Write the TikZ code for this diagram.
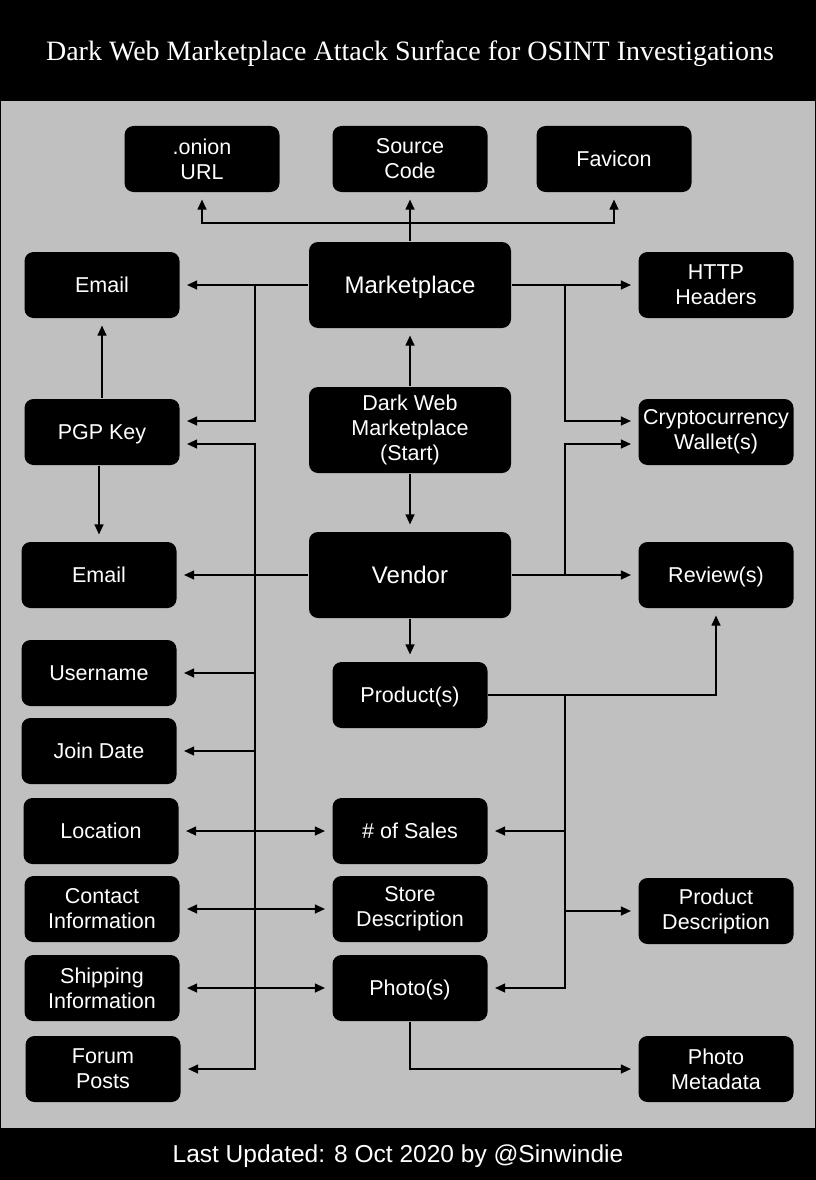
\documentclass[tikz,border=0pt]{standalone}
\usepackage{fontspec}
\setmainfont{Liberation Sans}
\newfontfamily\titlefont{Liberation Serif}
\usetikzlibrary{arrows.meta}
\definecolor{panel}{RGB}{192,192,192}

\begin{document}
\begin{tikzpicture}[x=1pt,y=-1pt,>={Triangle[length=10pt,width=9pt]},line width=1.2pt,
    box/.style={fill=black,rounded corners=9pt,text=white,align=center,inner sep=2pt,
      minimum width=155pt,minimum height=66pt,font=\fontsize{21.5}{25}\selectfont},
    bigbox/.style={box,minimum width=202pt,minimum height=86pt},
    big/.style={font=\fontsize{24}{28}\selectfont,text height=17.2pt,text depth=0pt},
    one/.style={text height=15.4pt,text depth=0pt},
    link/.style={->,shorten >=7pt}]
      \useasboundingbox (0,0) rectangle (816,1180);
      \draw[fill=panel,line width=1pt] (0.5,0.5) rectangle (815.5,1179.5);
      \fill[black] (0,0) rectangle (816,101);
      \fill[black] (0,1128) rectangle (816,1180);
      \node[text=white,font=\titlefont\fontsize{28}{32}\selectfont] (title) at (410,54)
        {Dark Web Marketplace Attack Surface for OSINT Investigations};
      \node[text=white,font=\fontsize{24.5}{28}\selectfont] (footer) at (398,1156)
        {Last Updated: 8 Oct 2020 by @Sinwindie};

      % top row
      \node[box] (onion) at (202,159) {.onion\\URL};
      \node[box] (src) at (410,159) {Source\\Code};
      \node[box,one] (fav) at (614,159) {Favicon};

      % centre column
      \node[bigbox,big] (mkt) at (410,285) {Marketplace};
      \node[bigbox] (start) at (410,430) {Dark Web\\Marketplace\\(Start)};
      \node[bigbox,big] (vendor) at (410,575) {Vendor};
      \node[box,one] (product) at (410,695) {Product(s)};
      \node[box,one] (sales) at (410,831) {\# of Sales};
      \node[box] (store) at (410,909) {Store\\Description};
      \node[box,one] (photo) at (410,988) {Photo(s)};

      % left column
      \node[box,one] (emailA) at (102,285) {Email};
      \node[box,one] (pgp) at (102,432) {PGP Key};
      \node[box,one] (emailB) at (99,575) {Email};
      \node[box,one] (user) at (99,673) {Username};
      \node[box,one] (join) at (99,751) {Join Date};
      \node[box,one] (loc) at (101,831) {Location};
      \node[box] (contact) at (102,909) {Contact\\Information};
      \node[box] (ship) at (102,988) {Shipping\\Information};
      \node[box] (forum) at (103,1069) {Forum\\Posts};

      % right column
      \node[box] (http) at (716,285) {HTTP\\Headers};
      \node[box] (crypto) at (716,432) {Cryptocurrency\\Wallet(s)};
      \node[box,one] (review) at (716,575) {Review(s)};
      \node[box] (pdesc) at (716,911) {Product\\Description};
      \node[box] (meta) at (716,1069) {Photo\\Metadata};

      % junctions
      \coordinate (jT) at (410,223);
      \coordinate (jL) at (255,285);
      \coordinate (jR) at (565,285);
      \coordinate (jV) at (565,575);
      \coordinate (jP) at (565,695);
      \coordinate (busL) at (255,700);

      \draw (mkt.north) -- (jT);
      \draw[link] (jT) -| (onion);
      \draw[link] (jT) -- (src);
      \draw[link] (jT) -| (fav);

      \draw[link] (mkt) -- (emailA);
      \draw[link] (jL) |- ([yshift=11pt]pgp.east);
      \draw[link] (mkt) -- (http);
      \draw[link] (jR) |- ([yshift=11pt]crypto.west);

      \draw[link] (pgp) -- (emailA);
      \draw[link] (pgp.south -| emailB) -- (emailB);

      \draw[link] (start) -- (mkt);
      \draw[link] (start) -- (vendor);

      \draw[link] (vendor) -- (emailB);
      \draw[link] (vendor) -- (review);
      \draw[link] (jV) |- ([yshift=-12pt]crypto.west);
      \draw[link] (vendor) -- (product);

      \draw[link] (product) -| (review);
      \draw[link] (jP) |- (sales);
      \draw[link] (jP) |- (pdesc);
      \draw[link] (jP) |- (photo);

      \draw[link] (busL) |- ([yshift=-12pt]pgp.east);
      \draw[link] (busL) |- (user);
      \draw[link] (busL) |- (join);
      \draw[link] (busL) |- (forum);

      \draw[link,<->,shorten <=7pt] (loc) -- (sales);
      \draw[link,<->,shorten <=7pt] (contact) -- (store);
      \draw[link,<->,shorten <=7pt] (ship) -- (photo);

      \draw[link] (photo) |- (meta);
    \end{tikzpicture}
\end{document}
